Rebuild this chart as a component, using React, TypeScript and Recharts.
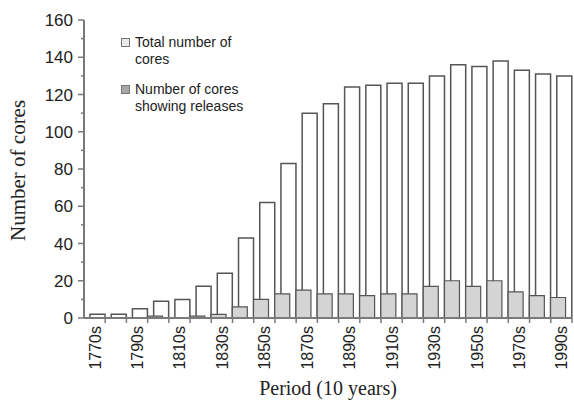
import { BarChart, Bar, XAxis, YAxis, Legend } from 'recharts'

const periods = [
  '1770s', '1780s', '1790s', '1800s', '1810s', '1820s', '1830s', '1840s',
  '1850s', '1860s', '1870s', '1880s', '1890s', '1900s', '1910s', '1920s',
  '1930s', '1940s', '1950s', '1960s', '1970s', '1980s', '1990s',
]
const totalCores = [2, 2, 5, 9, 10, 17, 24, 43, 62, 83, 110, 115, 124, 125, 126, 126, 130, 136, 135, 138, 133, 131, 130]
const releaseCores = [0, 0, 0, 1, 0, 1, 2, 6, 10, 13, 15, 13, 13, 12, 13, 13, 17, 20, 17, 20, 14, 12, 11]
const yTicks = [0, 10, 20, 30, 40, 50, 60, 70, 80, 90, 100, 110, 120, 130, 140, 150, 160]

const data = periods.map((p, i) => ({ period: p, total: totalCores[i], releases: releaseCores[i] }))

const AXIS = '#7a7a7a'
const SANS = '"Liberation Sans", Arial, sans-serif'
const SERIF = '"Liberation Serif", "Times New Roman", serif'

function YTick(props: any) {
  const { x, y, payload } = props
  const major = payload.value % 20 === 0
  const ax = x + 8
  return (
    <g>
      <line x1={ax} x2={ax - (major ? 6 : 3)} y1={y} y2={y} stroke={AXIS} strokeWidth={1.5} />
      {major && (
        <text x={ax - 11} y={y} dy={6} textAnchor="end" fontSize={17} fontFamily={SANS} fill="#222">
          {payload.value}
        </text>
      )}
    </g>
  )
}

function XTick(props: any) {
  const { x, y, payload, index } = props
  const half = 10.6
  return (
    <g>
      <line x1={x + half} x2={x + half} y1={y - 8} y2={y - 3} stroke={AXIS} strokeWidth={1.5} />
      {index % 2 === 0 && (
        <text
          x={x}
          y={y}
          transform={`rotate(-90, ${x}, ${y})`}
          dy={6}
          textAnchor="end"
          fontSize={16}
          fontFamily={SANS}
          fill="#222"
        >
          {payload.value}
        </text>
      )}
    </g>
  )
}

function LegendBox() {
  const items = [
    { label: 'Total number of cores', fill: '#e8e8e8' },
    { label: 'Number of cores showing releases', fill: '#a8a8a8' },
  ]
  return (
    <div style={{ fontFamily: SANS, fontSize: 14, color: '#222', lineHeight: '17px' }}>
      {items.map((it) => (
        <div key={it.label} style={{ display: 'flex', alignItems: 'flex-start', marginBottom: 13 }}>
          <span
            style={{
              display: 'inline-block',
              width: 7,
              height: 7,
              border: '1.5px solid #777',
              background: it.fill,
              marginTop: 4,
              marginRight: 5,
              flexShrink: 0,
            }}
          />
          <span style={{ width: 116 }}>{it.label}</span>
        </div>
      ))}
    </div>
  )
}

export default function App() {
  return (
    <div style={{ position: 'absolute', left: 0, top: 0, background: '#fff' }}>
      <BarChart
        width={574}
        height={401}
        data={data}
        margin={{ top: 20, right: 2, bottom: 0, left: 0 }}
        barSize={15}
        barGap="-100%"
      >
        <XAxis
          dataKey="period"
          interval={0}
          height={83}
          axisLine={{ stroke: AXIS, strokeWidth: 2 }}
          tickLine={false}
          tick={<XTick />}
          label={{ value: 'Period (10 years)', position: 'insideBottom', offset: 6, fontSize: 20, fontFamily: SERIF, fill: '#222' }}
        />
        <YAxis
          domain={[0, 160]}
          ticks={yTicks}
          interval={0}
          width={84}
          axisLine={{ stroke: AXIS, strokeWidth: 2 }}
          tickLine={false}
          tick={<YTick />}
          label={{ value: 'Number of cores', angle: -90, position: 'insideLeft', offset: 18, dy: 72, fontSize: 21, fontFamily: SERIF, fill: '#222' }}
        />
        <Legend
          content={<LegendBox />}
          layout="horizontal"
          verticalAlign="middle"
          align="center"
          wrapperStyle={{ left: 121, top: 34, width: 140 }}
        />
        <Bar dataKey="total" fill="#ffffff" stroke="#555" strokeWidth={1.5} isAnimationActive={false} />
        <Bar dataKey="releases" fill="#d4d4d4" stroke="#555" strokeWidth={1.2} isAnimationActive={false} />
      </BarChart>
    </div>
  )
}
